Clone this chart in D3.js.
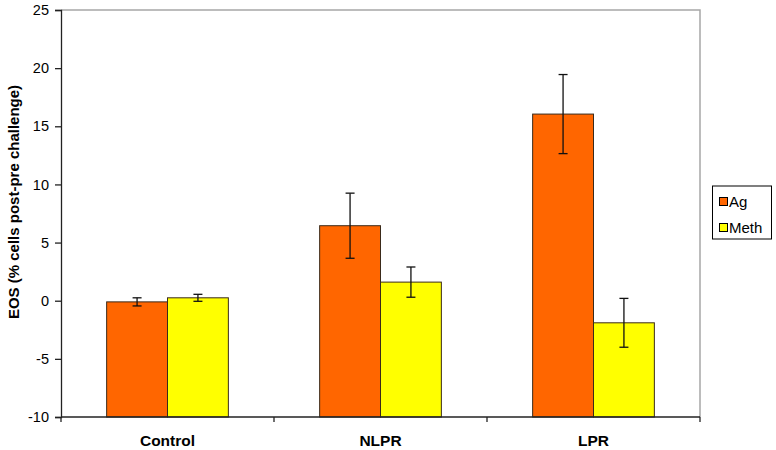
<!DOCTYPE html>
<html><head><meta charset="utf-8">
<script src="https://cdn.jsdelivr.net/npm/d3@7"></script>
<style>body{margin:0;background:#fff}svg{display:block}text{font-family:"Liberation Sans",Arial,sans-serif}</style>
</head><body><svg id="c" width="776" height="450"></svg>
<script>
const categories = ["Control", "NLPR", "LPR"];
const seriesNames = ["Ag", "Meth"];
const agValues = [-0.1, 6.45, 16.05];
const agErrors = [0.35, 2.8, 3.4];
const methValues = [0.25, 1.6, -1.9];
const methErrors = [0.3, 1.3, 2.1];
const yTicks = [-10, -5, 0, 5, 10, 15, 20, 25];
const colors = ["#FF6600", "#FFFF00"];

const svg = d3.select("#c");
const L = 61, R = 700, T = 10, B = 417;
const x = d3.scaleBand().domain(categories).range([L, R]);
const inner = d3.scaleBand().domain(seriesNames).range([0, x.bandwidth()]).paddingOuter(0.75).paddingInner(0);
const y = d3.scaleLinear().domain([-10, 25]).range([B, T]);

svg.append("path").attr("d", `M${L},${T}H${R}V${B}`).attr("fill","none").attr("stroke","#a6a6a6").attr("stroke-width",1.5);

const data = categories.map((c,i)=>({c, vals:[
  {s:"Ag", v:agValues[i], e:agErrors[i]},
  {s:"Meth", v:methValues[i], e:methErrors[i]}]}));

const g = svg.append("g");
data.forEach(d=>{
  d.vals.forEach((b,j)=>{
    const bx = x(d.c) + inner(b.s);
    g.append("rect").attr("x", bx).attr("width", inner.bandwidth())
      .attr("y", y(b.v)).attr("height", y(-10)-y(b.v))
      .attr("fill", colors[j]).attr("stroke","#3a2a1a").attr("stroke-width",1);
    const cx = bx + inner.bandwidth()/2;
    const eg = g.append("g").attr("stroke","#111").attr("stroke-width",1.3);
    eg.append("line").attr("x1",cx).attr("x2",cx).attr("y1",y(b.v+b.e)).attr("y2",y(b.v-b.e));
    eg.append("line").attr("x1",cx-4.5).attr("x2",cx+4.5).attr("y1",y(b.v+b.e)).attr("y2",y(b.v+b.e));
    eg.append("line").attr("x1",cx-4.5).attr("x2",cx+4.5).attr("y1",y(b.v-b.e)).attr("y2",y(b.v-b.e));
  });
});

const ya = svg.append("g").attr("transform",`translate(${L},0)`)
  .call(d3.axisLeft(y).tickValues(yTicks).tickSize(6).tickPadding(6).tickFormat(d=>String(d)));
ya.select(".domain").attr("stroke","#222").attr("stroke-width",1.3);
ya.selectAll(".tick line").attr("stroke","#222").attr("stroke-width",1.3);
ya.selectAll("text").attr("font-size",14.5).attr("fill","#000").attr("font-family","Liberation Sans, Arial, sans-serif");

const xa = svg.append("g").attr("transform",`translate(0,${B})`);
xa.append("line").attr("x1",L).attr("x2",R).attr("stroke","#222").attr("stroke-width",1.3);
const bounds = [L, ...categories.map(c=>x(c)+x.bandwidth())];
bounds.forEach(b=>xa.append("line").attr("x1",b).attr("x2",b).attr("y1",0).attr("y2",5).attr("stroke","#222").attr("stroke-width",1.3));
categories.forEach(c=>xa.append("text").attr("x",x(c)+x.bandwidth()/2).attr("y",29)
  .attr("text-anchor","middle").attr("font-size",15.5).attr("font-weight","bold").text(c));

svg.append("text").attr("transform",`translate(19,202) rotate(-90)`)
  .attr("text-anchor","middle").attr("font-size",15).attr("font-weight","bold")
  .text("EOS (% cells post-pre challenge)");

const lg = svg.append("g").attr("transform","translate(712.5,186)");
lg.append("rect").attr("width",59).attr("height",53).attr("fill","#fff").attr("stroke","#000").attr("stroke-width",1);
seriesNames.forEach((s,i)=>{
  const yy = 15.5 + i*26;
  lg.append("rect").attr("x",7).attr("y",yy-4).attr("width",8).attr("height",8).attr("fill",colors[i]).attr("stroke","#000").attr("stroke-width",1);
  lg.append("text").attr("x",16.5).attr("y",yy+5.5).attr("font-size",15).text(s);
});
</script></body></html>
